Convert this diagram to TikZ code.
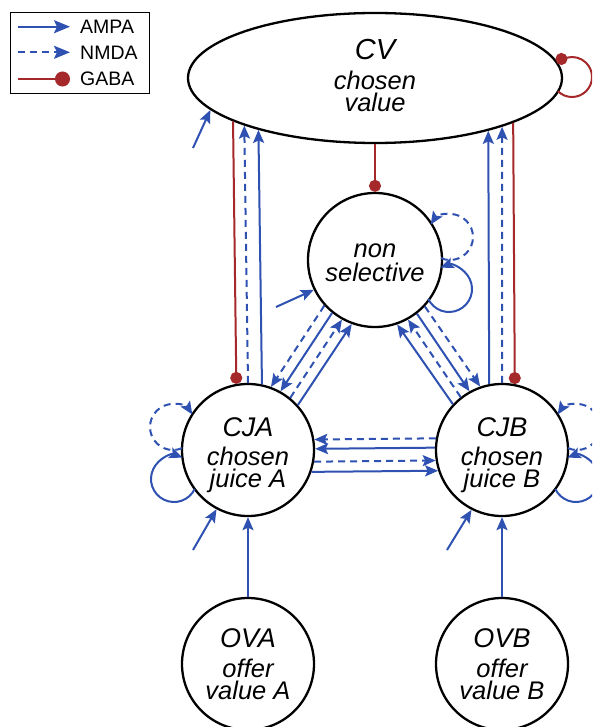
\documentclass[tikz,border=0pt]{standalone}
\usepackage{fontspec}
\setmainfont{Liberation Sans}
\usetikzlibrary{arrows.meta,shapes.geometric,calc}
\definecolor{bl}{RGB}{47,82,178}
\definecolor{rd}{RGB}{165,40,42}
\begin{document}
\begin{tikzpicture}[x=1pt,y=-1pt,
  ampa/.style={draw=bl, line width=2pt, -{Stealth[length=13pt,width=11pt,inset=2.5pt]}},
  nmda/.style={ampa, dash pattern=on 7pt off 5pt},
  gaba/.style={draw=rd, line width=2pt, -{Circle[length=12pt]}},
  unit/.style={draw, line width=2.3pt, fill=white, inner sep=0pt, align=center,
    font=\itshape\fontsize{25.5}{22}\selectfont},
  neuron/.style={unit, circle, minimum size=132pt},
  legtxt/.style={anchor=base west, inner sep=0pt, font=\fontsize{19.5}{20}\selectfont},
  legampa/.style={ampa, -{Stealth[length=16pt,width=13pt,inset=3pt]}},
  legnmda/.style={legampa, dash pattern=on 7pt off 5pt},
  leggaba/.style={gaba, -{Circle[length=15pt]}}
]
\useasboundingbox (0,0) rectangle (592,727);
\fill[white] (0,0) rectangle (592,727);
\clip (0,0) rectangle (592,727);

% nodes
\node[unit, ellipse, minimum width=374pt, minimum height=130pt] (cv) at (375,78)
  {{\fontsize{29}{29}\selectfont CV}\\[8pt] chosen\\ value\rule[-5pt]{0pt}{5pt}};
\node[neuron, minimum size=134pt] (ns) at (375,260) {\rule{0pt}{20pt}non\\[2pt] selective};
\node[neuron] (cja) at (248,450) {\rule{0pt}{30pt}{\fontsize{27}{27}\selectfont CJA}\\[7pt] chosen\\ juice A};
\node[neuron] (cjb) at (502,450) {\rule{0pt}{30pt}{\fontsize{27}{27}\selectfont CJB}\\[7pt] chosen\\ juice B};
\node[neuron] (ova) at (248,664) {{\fontsize{27}{27}\selectfont OVA}\\[8pt] offer\\ value A};
\node[neuron] (ovb) at (502,664) {{\fontsize{27}{27}\selectfont OVB}\\[8pt] offer\\ value B};

% CV <-> CJA / CJB
\draw[gaba] (cv.197.4) -- (cja.100.5);
\draw[nmda] (cja.90) -- (cv.200.6);
\draw[ampa] (cja.78.6) -- (cv.204.3);
\draw[ampa] (cjb.101.4) -- (cv.335.7);
\draw[nmda] (cjb.90) -- (cv.339.4);
\draw[gaba] (cv.342.6) -- (cjb.79.5);
\draw[gaba] (cv.south) -- (ns.north);

% non selective <-> CJA
\draw[nmda] (ns.222.2) -- (cja.70.2);
\draw[ampa] (ns.231.4) -- (cja.61);
\draw[nmda] (cja.51.4) -- (ns.241);
\draw[ampa] (cja.42.2) -- (ns.250.2);
% non selective <-> CJB
\draw[ampa] (cjb.137.8) -- (ns.289.8);
\draw[nmda] (cjb.128.6) -- (ns.299);
\draw[ampa] (ns.308.6) -- (cjb.119);
\draw[nmda] (ns.317.8) -- (cjb.109.8);

% CJA <-> CJB
\draw[nmda] (cjb.170.4) -- (cja.9.6);
\draw[ampa] (cjb.178.3) -- (cja.1.7);
\draw[nmda] (cja.350.4) -- (cjb.189.6);
\draw[ampa] (cja.341.9) -- (cjb.198.1);

% offer value inputs
\draw[ampa] (ova.north) -- (cja.south);
\draw[ampa] (ovb.north) -- (cjb.south);

% external inputs
\coordinate (cvin) at (193,148);
\coordinate (nsin) at (276,307);
\coordinate (cjain) at (193,550);
\coordinate (cjbin) at (447,550);
\draw[ampa] (cvin) -- (cv.191.9);
\draw[ampa] (nsin) -- (ns.206.9);
\draw[ampa] (cjain) -- (cja.242.4);
\draw[ampa] (cjbin) -- (cjb.243);

% self loops
\draw[nmda] ($(ns)+(75,-23)$) ++(113.15:23) arc[start angle=113.15,end angle=-147.25,radius=23];
\draw[ampa] ($(ns)+(74,29)$) ++(154.3:23) arc[start angle=154.3,end angle=-111.5,radius=23];
\draw[nmda] ($(cjb)+(75,-23)$) ++(113.15:23) arc[start angle=113.15,end angle=-147.25,radius=23];
\draw[ampa] ($(cjb)+(74,29)$) ++(154.3:23) arc[start angle=154.3,end angle=-111.5,radius=23];
\draw[nmda] ($(cja)+(-75,-23)$) ++(66.85:23) arc[start angle=66.85,end angle=327.25,radius=23];
\draw[ampa] ($(cja)+(-74,29)$) ++(25.7:23) arc[start angle=25.7,end angle=291.5,radius=23];
\draw[gaba] ($(cv)+(197,-1)$) ++(135:20) arc[start angle=135,end angle=-137,radius=20];

% legend
\node[draw, line width=0.9pt, minimum width=139pt, minimum height=81pt, inner sep=0pt, anchor=north west] (leg) at (9.5,12.5) {};
\coordinate (la1) at (18,26.7); \coordinate (la2) at (70,26.7);
\coordinate (ln1) at (18,52.3); \coordinate (ln2) at (70,52.3);
\coordinate (lg1) at (18,79);   \coordinate (lg2) at (70,79);
\draw[legampa] (la1) -- (la2);
\draw[legnmda] (ln1) -- (ln2);
\draw[leggaba] (lg1) -- (lg2);
\node[legtxt] (lta) at (80,33.5) {AMPA};
\node[legtxt] (ltn) at (80,59.3) {NMDA};
\node[legtxt] (ltg) at (80,86) {GABA};
\end{tikzpicture}
\end{document}
